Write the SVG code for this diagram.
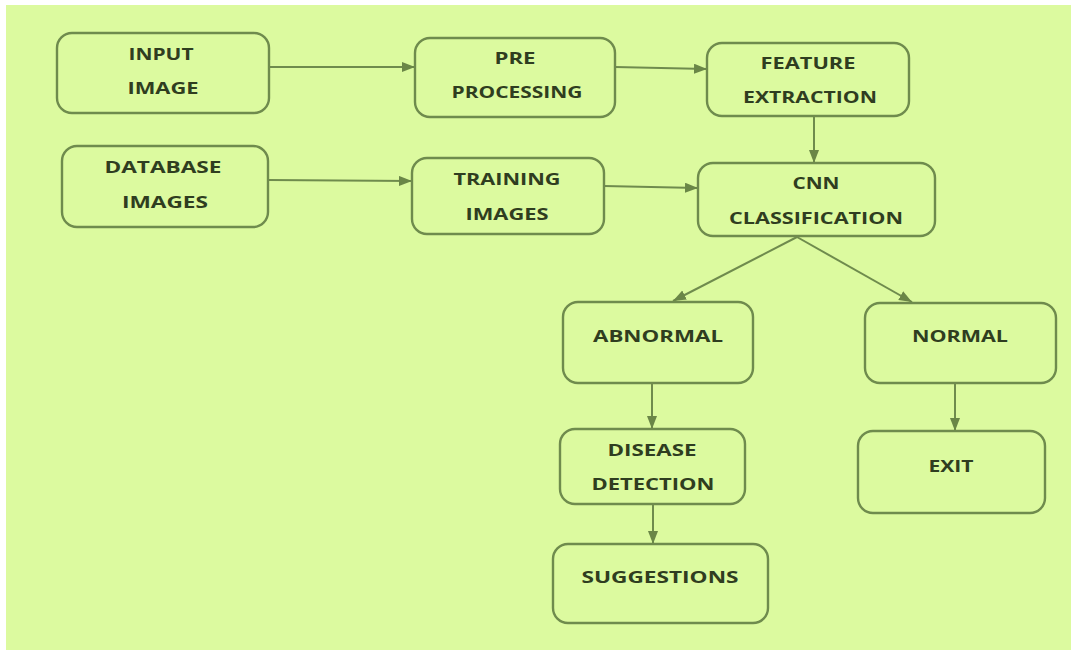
<svg xmlns="http://www.w3.org/2000/svg" width="1071" height="652" viewBox="0 0 1071 652">
<style>
.box{fill:#dcfa9f;stroke:#6f8b4d;stroke-width:2.4}
.t{font-family:"Open Sans","Liberation Sans",sans-serif;font-weight:700;font-size:16.5px;fill:#2f3d20;text-anchor:middle}
.c{fill:none;stroke:#6f8b4d;stroke-width:2;marker-end:url(#ah)}
</style>
<defs>
<marker id="ah" markerUnits="userSpaceOnUse" markerWidth="14" markerHeight="12" refX="13" refY="5" orient="auto">
<path d="M0,0 L13,5 L0,10 Z" fill="#6a8647"/>
</marker>
</defs>
<rect x="0" y="0" width="1071" height="652" fill="#ffffff"/>
<rect x="6" y="5" width="1065" height="645" fill="#dcfa9f"/>
<g id="connectors">
<line class="c" x1="270" y1="67" x2="415" y2="67"/>
<line class="c" x1="615" y1="67" x2="707" y2="69"/>
<line class="c" x1="814" y1="116" x2="814" y2="163"/>
<line class="c" x1="268" y1="180" x2="412" y2="181"/>
<line class="c" x1="604" y1="186" x2="698" y2="188"/>
<line class="c" x1="797" y1="237" x2="673" y2="301"/>
<line class="c" x1="797" y1="237" x2="912" y2="302"/>
<line class="c" x1="652" y1="383" x2="652" y2="429"/>
<line class="c" x1="653" y1="504" x2="653" y2="544"/>
<line class="c" x1="955" y1="383" x2="955" y2="431"/>
</g>
<g id="input-image">
<rect class="box" x="57" y="33" width="212" height="80" rx="15"/>
<text class="t" x="161" y="60" textLength="65" lengthAdjust="spacingAndGlyphs">INPUT</text>
<text class="t" x="163" y="94" textLength="71" lengthAdjust="spacingAndGlyphs">IMAGE</text>
</g>
<g id="pre-processing">
<rect class="box" x="415" y="38" width="200" height="79" rx="15"/>
<text class="t" x="515" y="64" textLength="41" lengthAdjust="spacingAndGlyphs">PRE</text>
<text class="t" x="517" y="98" textLength="131" lengthAdjust="spacingAndGlyphs">PROCESSING</text>
</g>
<g id="feature-extraction">
<rect class="box" x="707" y="43" width="202" height="73" rx="15"/>
<text class="t" x="808" y="69" textLength="95" lengthAdjust="spacingAndGlyphs">FEATURE</text>
<text class="t" x="810" y="103" textLength="134" lengthAdjust="spacingAndGlyphs">EXTRACTION</text>
</g>
<g id="database-images">
<rect class="box" x="62" y="146" width="206" height="81" rx="15"/>
<text class="t" x="163" y="173" textLength="117" lengthAdjust="spacingAndGlyphs">DATABASE</text>
<text class="t" x="165" y="208" textLength="86" lengthAdjust="spacingAndGlyphs">IMAGES</text>
</g>
<g id="training-images">
<rect class="box" x="412" y="158" width="192" height="76" rx="15"/>
<text class="t" x="507" y="185" textLength="107" lengthAdjust="spacingAndGlyphs">TRAINING</text>
<text class="t" x="507" y="220" textLength="83" lengthAdjust="spacingAndGlyphs">IMAGES</text>
</g>
<g id="cnn-classification">
<rect class="box" x="698" y="163" width="237" height="73" rx="15"/>
<text class="t" x="816" y="189" textLength="47" lengthAdjust="spacingAndGlyphs">CNN</text>
<text class="t" x="816" y="224" textLength="174" lengthAdjust="spacingAndGlyphs">CLASSIFICATION</text>
</g>
<g id="abnormal">
<rect class="box" x="563" y="302" width="190" height="81" rx="15"/>
<text class="t" x="658" y="342" textLength="130" lengthAdjust="spacingAndGlyphs">ABNORMAL</text>
</g>
<g id="normal">
<rect class="box" x="865" y="303" width="191" height="80" rx="15"/>
<text class="t" x="960" y="342" textLength="96" lengthAdjust="spacingAndGlyphs">NORMAL</text>
</g>
<g id="disease-detection">
<rect class="box" x="560" y="429" width="185" height="75" rx="15"/>
<text class="t" x="652" y="456" textLength="89" lengthAdjust="spacingAndGlyphs">DISEASE</text>
<text class="t" x="653" y="490" textLength="123" lengthAdjust="spacingAndGlyphs">DETECTION</text>
</g>
<g id="suggestions">
<rect class="box" x="553" y="544" width="215" height="79" rx="15"/>
<text class="t" x="660" y="583" textLength="157" lengthAdjust="spacingAndGlyphs">SUGGESTIONS</text>
</g>
<g id="exit">
<rect class="box" x="858" y="431" width="187" height="82" rx="15"/>
<text class="t" x="951" y="472" textLength="45" lengthAdjust="spacingAndGlyphs">EXIT</text>
</g>
</svg>
